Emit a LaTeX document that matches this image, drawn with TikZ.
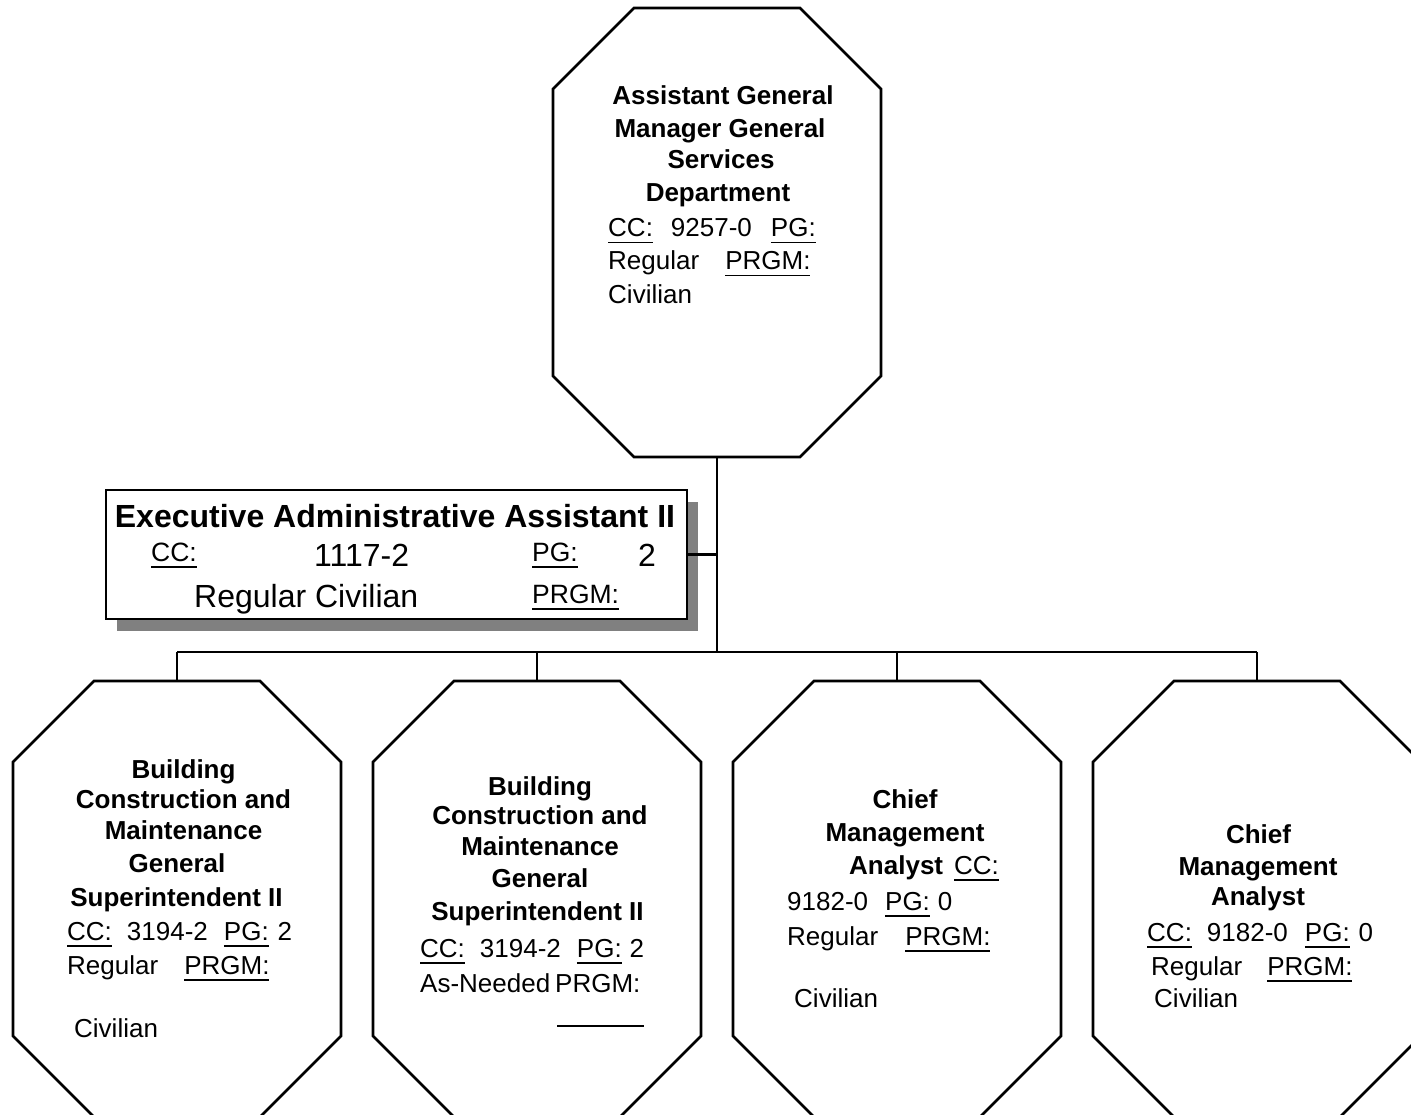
\documentclass[tikz,border=0pt]{standalone}
\usepackage{fontspec}
\setmainfont{Liberation Sans}
\usetikzlibrary{shadows}

% type sizes
\newcommand\octfont{\fontsize{26}{31}\selectfont}
\newcommand\bigfnt{\fontsize{32}{38}\selectfont}
\newcommand\tagfnt{\fontsize{26.5}{31}\selectfont}
% underline with a fixed offset below the baseline
\newcommand\undr[1]{\setbox0=\hbox{#1}\rlap{\rule[-6.5pt]{\wd0}{1.8pt}}\box0}
% octagonal outline around a named rectangular slot
\newcommand\drawocta[1]{\draw[octline]
  ([xshift=81pt]#1.north west) -- ([xshift=-81pt]#1.north east) --
  ([yshift=-81pt]#1.north east) -- ([yshift=81pt]#1.south east) --
  ([xshift=-81pt]#1.south east) -- ([xshift=81pt]#1.south west) --
  ([yshift=81pt]#1.south west) -- ([yshift=-81pt]#1.north west) -- cycle;}

\tikzset{
  slot/.style={draw=none, rectangle, inner sep=0pt, outer sep=0pt},
  octline/.style={line width=2.6pt, line join=miter},
  link/.style={line width=2.6pt},
  execbox/.style={draw, fill=white, line width=2.6pt, inner sep=0pt,
    drop shadow={shadow xshift=11pt, shadow yshift=-12pt, fill=black!50, opacity=1}},
  lbl/.style={inner sep=0pt, anchor=base west, font=\octfont},
  ttl/.style={inner sep=0pt, anchor=base, font=\octfont\bfseries}
}

\begin{document}
\begin{tikzpicture}[x=1pt, y=-1pt]
\useasboundingbox (0,0) rectangle (1411,1115);
\fill[white] (0,0) rectangle (1411,1115);
\clip (0,0) rectangle (1411,1115);

% position slots
\node[slot, minimum width=328pt, minimum height=449pt] (agm) at (717,232.5) {};
\node[slot, minimum width=328pt, minimum height=436pt] (b1) at (177,899) {};
\node[slot, minimum width=328pt, minimum height=436pt] (b2) at (537,899) {};
\node[slot, minimum width=328pt, minimum height=436pt] (b3) at (897,899) {};
\node[slot, minimum width=328pt, minimum height=436pt] (b4) at (1257,899) {};
\drawocta{agm}
\drawocta{b1}
\drawocta{b2}
\drawocta{b3}
\drawocta{b4}

% connectors
\coordinate (hub) at (717,652);
\draw[link] (agm.south) -- (hub);
\draw[link] (b1.north |- hub) -- (b4.north |- hub);
\foreach \n in {b1,b2,b3,b4} \draw[link] (\n.north) -- (\n.north |- hub);

% executive assistant box
\node[execbox, minimum width=581pt, minimum height=129pt] (exec) at (396.5,554.5) {};
\draw[link] (exec.east) -- (exec.east -| hub);
\node[ttl, font=\bigfnt\bfseries] (ex1) at (395,527) {Executive Administrative Assistant II};
\node[lbl, font=\tagfnt] (ex2) at (151,561) {\undr{CC:}};
\node[lbl, font=\bigfnt] (ex3) at (314,566) {1117-2};
\node[lbl, font=\tagfnt] (ex4) at (532,561) {\undr{PG:}};
\node[lbl, font=\bigfnt] (ex5) at (638,566) {2};
\node[lbl, font=\bigfnt] (ex6) at (194,607) {Regular Civilian};
\node[lbl, font=\tagfnt] (ex7) at (532,603) {\undr{PRGM:}};

% assistant general manager
\node[ttl] (agm1) at (723,105) {Assistant General};
\node[ttl] (agm2) at (720,138) {Manager General};
\node[ttl] (agm3) at (721,169) {Services};
\node[ttl] (agm4) at (718,202) {Department};
\node[lbl] (agm5) at (608,237) {\undr{CC:}\hspace{18pt}9257-0\hspace{19pt}\undr{PG:}};
\node[lbl] (agm6) at (608,270) {Regular\hspace{26pt}\undr{PRGM:}};
\node[lbl] (agm7) at (608,304) {Civilian};

% building superintendent, regular
\node[ttl] (b1t1) at (183.5,778) {Building};
\node[ttl] (b1t2) at (183.5,808) {Construction and};
\node[ttl] (b1t3) at (183.5,839) {Maintenance};
\node[ttl] (b1t4) at (177,872) {General};
\node[ttl] (b1t5) at (176.5,906) {Superintendent II};
\node[lbl] (b1t6) at (67,940) {\undr{CC:}\hspace{15pt}3194-2\hspace{16pt}\undr{PG:}\hspace{9pt}2};
\node[lbl] (b1t7) at (67,974) {Regular\hspace{26pt}\undr{PRGM:}};
\node[lbl] (b1t8) at (74,1037) {Civilian};

% building superintendent, as-needed
\node[ttl] (b2t1) at (540,795) {Building};
\node[ttl] (b2t2) at (540,824) {Construction and};
\node[ttl] (b2t3) at (540,855) {Maintenance};
\node[ttl] (b2t4) at (540,887) {General};
\node[ttl] (b2t5) at (537.5,920) {Superintendent II};
\node[lbl] (b2t6) at (420,957) {\undr{CC:}\hspace{15pt}3194-2\hspace{16pt}\undr{PG:}\hspace{8pt}2};
\node[lbl] (b2t7) at (420,992) {As-Needed\hspace{5pt}PRGM:};
\draw[line width=1.8pt] (557,1026) -- (644,1026);

% chief management analyst
\node[ttl] (b3t1) at (905,808) {Chief};
\node[ttl] (b3t2) at (905,841) {Management};
\node[lbl] (b3t3) at (849,874) {{\bfseries Analyst}\hspace{11pt}\undr{CC:}};
\node[lbl] (b3t4) at (787,910) {9182-0\hspace{17pt}\undr{PG:}\hspace{8pt}0};
\node[lbl] (b3t5) at (787,945) {Regular\hspace{27pt}\undr{PRGM:}};
\node[lbl] (b3t6) at (794,1007) {Civilian};

% chief management analyst
\node[ttl] (b4t1) at (1258.5,843) {Chief};
\node[ttl] (b4t2) at (1258,875) {Management};
\node[ttl] (b4t3) at (1258,905) {Analyst};
\node[lbl] (b4t4) at (1147,941) {\undr{CC:}\hspace{15pt}9182-0\hspace{17pt}\undr{PG:}\hspace{9pt}0};
\node[lbl] (b4t5) at (1151,975) {Regular\hspace{25pt}\undr{PRGM:}};
\node[lbl] (b4t6) at (1154,1007) {Civilian};
\end{tikzpicture}
\end{document}
